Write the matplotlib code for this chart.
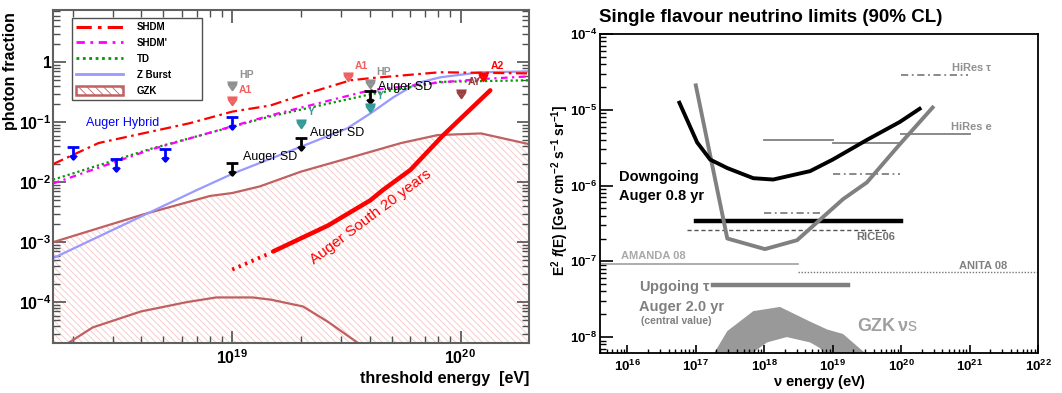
import numpy as np
import matplotlib
matplotlib.use("Agg")
from matplotlib import pyplot as plt
from matplotlib.path import Path
from matplotlib.lines import Line2D
from matplotlib.patches import Patch
from matplotlib.ticker import LogLocator, NullFormatter

plt.rcParams.update({
    "font.family": ["Liberation Sans", "DejaVu Sans"],
    "font.weight": "bold",
    "mathtext.fontset": "custom",
    "mathtext.rm": "Liberation Sans:bold",
    "mathtext.bf": "Liberation Sans:bold",
    "mathtext.it": "Liberation Sans:italic:bold",
    "mathtext.default": "bf",
    "hatch.linewidth": 0.6,
})

# ---------------- left panel: photon fraction ----------------
shdm_E = [1.64e18, 2.6e18, 6.5e18, 1.0e19, 1.47e19, 2.0e19, 3.3e19, 4.0e19, 8.1e19, 2.0e20]
shdm_f = [0.020, 0.045, 0.096, 0.15, 0.19, 0.28, 0.50, 0.54, 0.68, 0.65]

shdmp_E = [1.64e18, 4.4e18, 1.47e19, 4.0e19, 8.1e19, 1.2e20, 2.0e20]
shdmp_f = [0.0095, 0.035, 0.13, 0.34, 0.46, 0.52, 0.58]

td_E = [1.64e18, 4.4e18, 1.47e19, 4.0e19, 8.1e19, 2.0e20]
td_f = [0.011, 0.036, 0.125, 0.29, 0.47, 0.50]

zb_E = [1.64e18, 7.0e18, 1.01e19, 2.2e19, 3.19e19, 4.03e19, 5.08e19, 6.47e19, 8.17e19, 1.22e20, 2.0e20]
zb_f = [5.4e-4, 7.4e-3, 0.014, 0.045, 0.079, 0.14, 0.26, 0.45, 0.56, 0.68, 0.70]

gzk_up_E = [1.64e18, 4.07e18, 8.0e18, 1.0e19, 1.32e19, 2.0e19, 3.09e19, 5.5e19, 7.94e19, 1.23e20, 2.0e20]
gzk_up_f = [1.0e-3, 2.9e-3, 5.9e-3, 6.6e-3, 8.5e-3, 0.015, 0.024, 0.045, 0.061, 0.065, 0.043]
gzk_lo_E = [1.8e18, 2.45e18, 3.98e18, 6.3e18, 8.5e18, 1.23e19, 1.48e19, 2.04e19, 2.63e19, 3.55e19]
gzk_lo_f = [1.8e-5, 3.8e-5, 7.0e-5, 1.0e-4, 1.2e-4, 1.2e-4, 1.1e-4, 8.5e-5, 4.7e-5, 2.1e-5]

south_dot_E = [1.0e19, 1.47e19]
south_dot_f = [3.5e-4, 6.6e-4]
south_E = [1.51e19, 2.63e19, 4.03e19, 4.57e19, 6.03e19, 8.41e19, 1.35e20]
south_f = [7.0e-4, 1.9e-3, 5.0e-3, 7.4e-3, 0.016, 0.061, 0.34]

hybrid_E = [2.0e18, 3.1e18, 5.1e18, 1.0e19]
hybrid_f = [0.038, 0.024, 0.036, 0.12]
sd_E = [1.0e19, 2.0e19, 4.0e19]
sd_f = [0.021, 0.054, 0.33]

# other experiments: (energy, limit, label, colour)
exp_E = [1.0e19, 1.0e19, 3.2e19, 4.0e19, 2.0e19, 4.0e19, 1.26e20, 1.0e20]
exp_f = [0.46, 0.26, 0.65, 0.50, 0.11, 0.20, 0.65, 0.35]
exp_lab = ["HP", "A1", "A1", "HP", "Y", "Y", "A2", "AY"]
exp_col = ["#909090", "#f06060", "#f06060", "#909090", "#339999", "#339999", "#ff0000", "#994040"]

# ---------------- right panel: neutrino limits ----------------
down_E = [10**16.76, 10**17.02, 10**17.21, 10**17.46, 10**17.84, 10**18.13, 10**18.67, 1e19, 10**19.5, 10**19.98, 10**20.27]
down_F = [1.24e-5, 3.7e-6, 2.2e-6, 1.7e-6, 1.25e-6, 1.2e-6, 1.55e-6, 2.2e-6, 4.0e-6, 6.9e-6, 1.03e-5]

up_E = [1e17, 10**17.46, 10**18.01, 10**18.48, 10**19.15, 10**19.5, 10**19.98, 10**20.46]
up_F = [2.1e-5, 2.0e-7, 1.45e-7, 1.9e-7, 6.6e-7, 1.1e-6, 3.5e-6, 1.07e-5]

# horizontal limits: (E_min, E_max, level)
black_int = (1e17, 1e20, 3.4e-7)
rice06 = (10**16.87, 10**19.79, 2.6e-7)
dashdot_lims = [(1e18, 10**18.86, 4.3e-7), (1e19, 10**19.98, 1.4e-6), (1e20, 10**20.97, 2.9e-5)]
solid_lims = [(1e18, 1e19, 4.0e-6), (1e19, 1e20, 3.6e-6), (1e20, 1e21, 4.8e-6)]
amanda08 = (10**15.6, 10**18.49, 9.3e-8)
anita08 = (10**18.49, 1e22, 7.2e-8)
up_int = (10**17.25, 10**19.22, 4.8e-8)

gzknu_up_E = [10**17.21, 10**17.46, 10**17.84, 10**18.23, 10**18.67, 10**18.92, 10**19.15, 10**19.59]
gzknu_up_F = [5e-9, 1.2e-8, 2.2e-8, 2.5e-8, 1.6e-8, 1.26e-8, 1.1e-8, 5e-9]
gzknu_lo_E = [10**17.69, 10**18.04, 10**18.33, 10**18.67, 10**18.81, 10**18.95]
gzknu_lo_F = [5e-9, 8.5e-9, 1.0e-8, 8.5e-9, 7.2e-9, 5e-9]


def mk(verts, codes):
    return Path(np.array(verts, float), codes)

M, L, C = Path.MOVETO, Path.LINETO, Path.CLOSEPOLY
arrow_mk = mk([(-1, 0), (1, 0), (0, 0), (0, -2.0), (-0.55, -1.35), (0, -2.0), (0.55, -1.35)],
              [M, L, M, L, M, L, L])
tri_mk = mk([(-1, 0), (1, 0), (-0.75, -0.4), (0.75, -0.4), (0, -1.5), (0, 0), (0, 0), (0, -1.2)],
            [M, L, M, L, L, C, M, L])

fig = plt.figure(figsize=(10.62, 3.93), dpi=100)

# ===== left =====
ax = fig.add_axes([53 / 1062, 1 - 343 / 393, 476 / 1062, 333 / 393])
ax.set_xscale("log")
ax.set_yscale("log")
ax.set_xlim(10**18.215, 10**20.30)
ax.set_ylim(10**-4.68, 10**0.87)

ax.fill_between(gzk_up_E, gzk_up_f, 1e-6, facecolor="none", edgecolor="#f7c4c4",
                hatch="\\\\\\\\\\", linewidth=0)
ax.plot(gzk_up_E, gzk_up_f, color="#c06060", lw=1.6)
ax.plot(gzk_lo_E, gzk_lo_f, color="#c06060", lw=1.6)
ax.plot(zb_E, zb_f, color="#9999ff", lw=1.6)
ax.plot(td_E, td_f, color="#009900", lw=1.6, ls=(0, (1, 1.3)))
ax.plot(shdmp_E, shdmp_f, color="#ff00ff", lw=1.6, ls=(0, (3, 2, 1, 2)))
ax.plot(shdm_E, shdm_f, color="#ff0000", lw=1.6, ls=(0, (5, 2, 1.2, 2)))

ax.plot(south_dot_E, south_dot_f, color="#ff0000", lw=2.8, ls=(0, (0.6, 1.2)))
ax.plot(south_E, south_f, color="#ff0000", lw=3.2, solid_capstyle="round")
ax.text(0.668, 0.378, "Auger South 20 years", transform=ax.transAxes, color="#ff0000",
        fontsize=11, fontweight="normal", rotation=37, ha="center", va="center")

ax.plot(hybrid_E, hybrid_f, ls="none", marker=arrow_mk, ms=17, mfc="none", mec="#0000ff", mew=2)
ax.plot(sd_E, sd_f, ls="none", marker=arrow_mk, ms=17, mfc="none", mec="black", mew=2)
for e, f, lab, col in zip(exp_E, exp_f, exp_lab, exp_col):
    ax.plot([e], [f], ls="none", marker=tri_mk, ms=11, mfc="none", mec=col, mew=1.5)
    ax.annotate(lab, (e, f), xytext=(5, 2), textcoords="offset points", color=col,
                fontsize=7.5, ha="left", va="bottom")

ax.text(0.069, 0.661, "Auger Hybrid", transform=ax.transAxes, color="#0000ff",
        fontsize=9, fontweight="normal", va="center")
for fx, fy in [(0.399, 0.559), (0.540, 0.631), (0.683, 0.769)]:
    ax.text(fx, fy, "Auger SD", transform=ax.transAxes, color="black",
            fontsize=9, fontweight="normal", va="center")

handles = [Line2D([], [], color="#ff0000", lw=2.2, ls=(0, (5, 2, 1.2, 2))),
           Line2D([], [], color="#ff00ff", lw=2.0, ls=(0, (3, 2, 1, 2))),
           Line2D([], [], color="#009900", lw=2.0, ls=(0, (1, 1.3))),
           Line2D([], [], color="#9999ff", lw=2.0),
           Patch(facecolor="white", edgecolor="#c06060", hatch="\\\\\\\\", lw=1.8)]
leg = ax.legend(handles, ["SHDM", "SHDM'", "TD", "Z Burst", "GZK"], loc="upper left",
                bbox_to_anchor=(0.04, 0.739, 0.273, 0.237), mode="expand",
                fontsize=7, handlelength=4.8, handleheight=1.0,
                labelspacing=0.6, borderpad=0.45, handletextpad=1.4, fancybox=False,
                edgecolor="#505050", framealpha=1, borderaxespad=0)
leg.get_frame().set_linewidth(1.0)

ax.set_xticks([1e19, 1e20], [r"$\mathbf{10^{19}}$", r"$\mathbf{10^{20}}$"])
ax.set_yticks([1e-4, 1e-3, 1e-2, 1e-1, 1],
              [r"$\mathbf{10^{-4}}$", r"$\mathbf{10^{-3}}$", r"$\mathbf{10^{-2}}$", r"$\mathbf{10^{-1}}$", "1"])
for a in (ax.xaxis, ax.yaxis):
    a.set_minor_locator(LogLocator(base=10, subs=np.arange(2, 10)))
    a.set_minor_formatter(NullFormatter())
ax.tick_params(which="both", direction="in", top=True, right=True, colors="#505050",
               labelcolor="black", labelsize=11.5)
ax.tick_params(which="major", length=9, width=1.2)
ax.tick_params(which="minor", length=5, width=1.0)
ax.tick_params(axis="y", pad=1)
ax.tick_params(axis="x", pad=4)
for s in ax.spines.values():
    s.set_color("#606060")
    s.set_linewidth(1.5)

fig.text(11 / 1062, 1 - 12 / 393, "photon fraction", rotation=90, ha="center", va="top", fontsize=11.5)
fig.text(529 / 1062, 1 - 379 / 393, "threshold energy  [eV]", ha="right", va="center", fontsize=11.5)

# ===== right =====
bx = fig.add_axes([600 / 1062, 1 - 353 / 393, 438 / 1062, 319 / 393])
bx.set_xscale("log")
bx.set_yscale("log")
bx.set_xlim(10**15.6, 1e22)
bx.set_ylim(10**-8.21, 1e-4)

gx = list(gzknu_up_E) + list(gzknu_lo_E[::-1])
gy = list(gzknu_up_F) + list(gzknu_lo_F[::-1])
bx.fill(gx, gy, color="#999999", lw=0)

bx.plot(amanda08[:2], [amanda08[2]] * 2, color="#a0a0a0", lw=1.2)
bx.plot(anita08[:2], [anita08[2]] * 2, color="#777777", lw=1.0, ls=(0, (1, 1.2)))
for e0, e1, v in solid_lims:
    bx.plot([e0, e1], [v, v], color="#808080", lw=1.3)
for e0, e1, v in dashdot_lims:
    bx.plot([e0, e1], [v, v], color="#808080", lw=1.3, ls=(0, (4, 2, 1, 2)))
bx.plot(rice06[:2], [rice06[2]] * 2, color="#555555", lw=1.0, ls=(0, (3, 2)))
bx.plot(black_int[:2], [black_int[2]] * 2, color="black", lw=3.2)
bx.plot(up_int[:2], [up_int[2]] * 2, color="#808080", lw=3.2)
bx.plot(up_E, up_F, color="#808080", lw=2.8)
bx.plot(down_E, down_F, color="black", lw=2.8)

def tx(fx, fy, s, col, fs, **kw):
    bx.text(fx, fy, s, transform=bx.transAxes, color=col, fontsize=fs, va="center", ha="left", **kw)

tx(0.043, 0.552, "Downgoing", "black", 10.5)
tx(0.043, 0.492, "Auger 0.8 yr", "black", 10.5)
tx(0.089, 0.207, r"Upgoing $\tau$", "#808080", 10.5)
tx(0.089, 0.144, "Auger 2.0 yr", "#808080", 10.5)
tx(0.094, 0.100, "(central value)", "#808080", 7.5)
tx(0.587, 0.082, "GZK", "#a0a0a0", 13)
bx.text(0.677, 0.082, r"$\nu$s", transform=bx.transAxes, color="#a0a0a0", fontsize=13,
        va="center", ha="left", fontweight="normal")
tx(0.048, 0.304, "AMANDA 08", "#a8a8a8", 8)
tx(0.584, 0.364, "RICE06", "#707070", 8)
tx(0.820, 0.273, "ANITA 08", "#808080", 8)
tx(0.801, 0.897, r"HiRes $\tau$", "#909090", 8)
tx(0.801, 0.708, "HiRes e", "#909090", 8)

bx.set_xticks([10.0**k for k in range(16, 23)], [r"$\mathbf{10^{%d}}$" % k for k in range(16, 23)])
bx.set_yticks([10.0**k for k in range(-8, -3)], [r"$\mathbf{10^{%d}}$" % k for k in range(-8, -3)])
for a in (bx.xaxis, bx.yaxis):
    a.set_minor_locator(LogLocator(base=10, subs=np.arange(2, 10)))
    a.set_minor_formatter(NullFormatter())
bx.tick_params(which="both", direction="in", top=False, right=False, labelsize=9.5)
bx.tick_params(axis="y", which="major", length=9, width=1.2, pad=2)
bx.tick_params(axis="y", which="minor", length=4.5, width=1.0)
bx.tick_params(axis="x", which="major", length=6, width=1.2, pad=4)
bx.tick_params(axis="x", which="minor", length=3, width=1.0)
for s in bx.spines.values():
    s.set_linewidth(1.3)

fig.text(599 / 1062, 1 - 17 / 393, "Single flavour neutrino limits (90% CL)", ha="left", va="center", fontsize=13.5)
fig.text(560 / 1062, 1 - 190 / 393,
         r"E$^{2}$ $\mathit{f}$(E) [GeV cm$^{-2}$ s$^{-1}$ sr$^{-1}$]",
         rotation=90, ha="center", va="center", fontsize=10)
fig.text(820 / 1062, 1 - 382 / 393, r"$\nu$ energy (eV)", ha="center", va="center", fontsize=10.5)

fig.savefig("out.png", dpi=100)
